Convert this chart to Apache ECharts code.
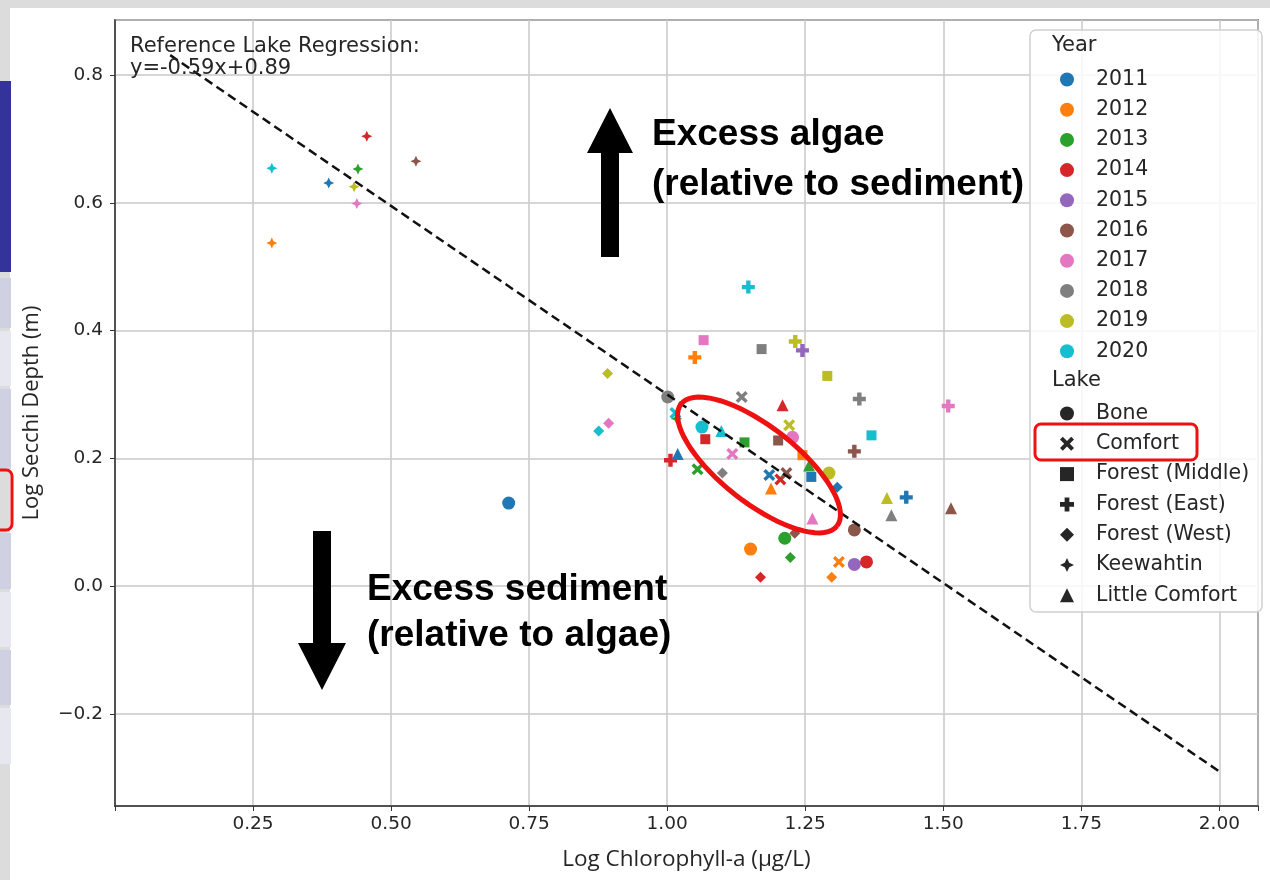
<!DOCTYPE html>
<html>
<head>
<meta charset="utf-8">
<title>Log Secchi Depth vs Log Chlorophyll-a</title>
<script src="https://cdn.jsdelivr.net/npm/echarts@6/dist/echarts.min.js"></script>
<style>
    html, body { margin: 0; padding: 0; background: #dcdcdc; }
    #slide { position: absolute; left: 10px; top: 8px; width: 1260px; height: 872px; background: #fff; }
    .strip { position: absolute; left: 0; width: 11px; }
    #chart { position: absolute; left: 0; top: 0; width: 1270px; height: 880px; }
</style>
</head>
<body>
<div id="slide"></div>
<div class="strip" style="top:81px;height:191px;background:#333399"></div>
<div class="strip" style="top:278px;height:50px;background:#cfd0e2"></div>
<div class="strip" style="top:331px;height:55px;background:#e6e7ef"></div>
<div class="strip" style="top:389px;height:80px;background:#cfd0e2"></div>
<div class="strip" style="top:533px;height:56px;background:#cfd0e2"></div>
<div class="strip" style="top:592px;height:55px;background:#e6e7ef"></div>
<div class="strip" style="top:650px;height:55px;background:#cfd0e2"></div>
<div class="strip" style="top:708px;height:56px;background:#e6e7ef"></div>
<div id="chart"></div>
<script>
const years = ['2011', '2012', '2013', '2014', '2015', '2016', '2017', '2018', '2019', '2020'];
const yearColors = ['#1f77b4', '#ff7f0e', '#2ca02c', '#d62728', '#9467bd', '#8c564b', '#e377c2', '#7f7f7f', '#bcbd22', '#17becf'];

// [log chlorophyll-a, log secchi depth, year]
const bone = [[0.713, 0.130, 2011], [1.001, 0.296, 2018], [1.063, 0.249, 2020], [1.151, 0.058, 2012], [1.213, 0.075, 2013],
    [1.227, 0.233, 2017], [1.293, 0.177, 2019], [1.339, 0.088, 2016], [1.339, 0.034, 2015], [1.361, 0.038, 2014]];
const comfort = [[1.015, 0.271, 2020], [1.055, 0.183, 2013], [1.118, 0.207, 2017], [1.135, 0.296, 2018], [1.185, 0.174, 2011],
    [1.205, 0.167, 2014], [1.216, 0.177, 2016], [1.221, 0.252, 2019], [1.311, 0.038, 2012]];
const forestMiddle = [[1.066, 0.385, 2017], [1.171, 0.371, 2018], [1.290, 0.329, 2019], [1.370, 0.236, 2020], [1.069, 0.230, 2014],
    [1.140, 0.225, 2013], [1.201, 0.228, 2016], [1.245, 0.205, 2012], [1.261, 0.171, 2011]];
const forestEast = [[1.147, 0.468, 2020], [1.050, 0.358, 2012], [1.232, 0.383, 2019], [1.245, 0.369, 2015], [1.348, 0.293, 2018],
    [1.339, 0.211, 2016], [1.509, 0.282, 2017], [1.433, 0.139, 2011], [1.006, 0.197, 2014]];
const forestWest = [[0.892, 0.333, 2019], [0.894, 0.255, 2017], [0.876, 0.243, 2020], [1.100, 0.177, 2018], [1.231, 0.083, 2016],
    [1.223, 0.045, 2013], [1.169, 0.014, 2014], [1.298, 0.014, 2012], [1.308, 0.155, 2011]];
const keewahtin = [[0.284, 0.654, 2020], [0.284, 0.537, 2012], [0.387, 0.631, 2011], [0.440, 0.653, 2013], [0.433, 0.625, 2019],
    [0.438, 0.599, 2017], [0.456, 0.704, 2014], [0.545, 0.665, 2016], [1.017, 0.262, 2013]];
const littleComfort = [[1.209, 0.283, 2014], [1.019, 0.207, 2011], [1.098, 0.243, 2020], [1.188, 0.153, 2012], [1.257, 0.189, 2013],
    [1.263, 0.106, 2017], [1.398, 0.138, 2019], [1.406, 0.111, 2018], [1.514, 0.122, 2016]];

const lakes = ['Bone', 'Comfort', 'Forest (Middle)', 'Forest (East)', 'Forest (West)', 'Keewahtin', 'Little Comfort'];
const lakeData = [bone, comfort, forestMiddle, forestEast, forestWest, keewahtin, littleComfort];

// reference lake regression y = -0.59x + 0.89
const regSlope = -0.59;
const regIntercept = 0.89;
const regX = [0.1, 2.0];

const xTicks = [0.25, 0.5, 0.75, 1.0, 1.25, 1.5, 1.75, 2.0];

const lakeSymbols = [
    'circle',
    'path://M2,0 L5,3 L8,0 L10,2 L7,5 L10,8 L8,10 L5,7 L2,10 L0,8 L3,5 L0,2 Z',
    'rect',
    'path://M3.3,0 H6.7 V3.3 H10 V6.7 H6.7 V10 H3.3 V6.7 H0 V3.3 H3.3 Z',
    'diamond',
    'path://M5,0 L6.6,3.4 L10,5 L6.6,6.6 L5,10 L3.4,6.6 L0,5 L3.4,3.4 Z',
    'triangle'
];
const lakeSizes = [13, 12, 10, 13, 11, 11, 12];

const chart = echarts.init(document.getElementById('chart'));

const series = [];
years.forEach(function (y, i) {
    series.push({ name: y, type: 'scatter', data: [], symbol: 'circle', itemStyle: { color: yearColors[i], opacity: 1 } });
});
lakes.forEach(function (lake, i) {
    series.push({
        name: lake,
        type: 'scatter',
        symbol: lakeSymbols[i],
        symbolSize: lakeSizes[i],
        itemStyle: { color: '#262626', opacity: 1 },
        z: 3,
        data: lakeData[i].map(function (d) {
            return { value: [d[0], d[1]], itemStyle: { color: yearColors[years.indexOf(String(d[2]))], opacity: 1 } };
        })
    });
});
series.push({
    type: 'line',
    data: regX.map(function (x) { return [x, regSlope * x + regIntercept]; }),
    symbol: 'none',
    lineStyle: { color: '#111', width: 2.5, type: [9, 5] },
    z: 4
});

// red ellipse around the Comfort points (annotation)
const ellipsePts = [];
const ec = [759, 465], ea = 99, eb = 38, ang = 38 * Math.PI / 180;
for (let k = 0; k <= 72; k++) {
    const t = k / 72 * Math.PI * 2;
    const px = ea * Math.cos(t), py = eb * Math.sin(t);
    ellipsePts.push([ec[0] + px * Math.cos(ang) - py * Math.sin(ang), ec[1] + px * Math.sin(ang) + py * Math.cos(ang)]);
}

const legendText = { fontFamily: 'DejaVu Sans', fontSize: 20.5, color: '#262626', padding: [0, 0, 0, 17] };

const option = {
    animation: false,
    textStyle: { fontFamily: 'DejaVu Sans' },
    grid: { left: 115, right: 12, top: 20, bottom: 74, show: true, borderColor: '#333', borderWidth: 1.5 },
    xAxis: {
        type: 'value', min: 0, max: 2.07, interval: 0.25,
        name: 'Log Chlorophyll-a (\u00b5g/L)', nameLocation: 'middle', nameGap: 42,
        nameTextStyle: { fontFamily: 'Open Sans', fontSize: 22.5, color: '#262626' },
        axisLine: { show: true, onZero: false, lineStyle: { color: '#333', width: 1.5 } },
        axisTick: { show: true, length: 5, lineStyle: { color: '#333' } },
        axisLabel: {
            fontSize: 18.5, color: '#262626', margin: 9,
            formatter: function (v) { return xTicks.indexOf(v) >= 0 ? v.toFixed(2) : ''; }
        },
        splitLine: { lineStyle: { color: '#c8c8c8', width: 1.5 } }
    },
    yAxis: {
        type: 'value', min: -0.344, max: 0.886, splitNumber: 6,
        name: 'Log Secchi Depth (m)', nameLocation: 'middle', nameGap: 72,
        nameTextStyle: { fontFamily: 'Open Sans', fontSize: 22, color: '#262626' },
        axisLine: { show: true, onZero: false, lineStyle: { color: '#333', width: 1.5 } },
        axisTick: { show: true, length: 5, lineStyle: { color: '#333' } },
        axisLabel: {
            fontSize: 18.5, color: '#262626', margin: 12, showMinLabel: false, showMaxLabel: false,
            formatter: function (v) { return v < 0 ? '\u2212' + Math.abs(v).toFixed(1) : v.toFixed(1); }
        },
        splitLine: { lineStyle: { color: '#c8c8c8', width: 1.5 } }
    },
    legend: [
        {
            data: years, orient: 'vertical', left: 1055, top: 64, itemWidth: 14, itemHeight: 14, itemGap: 9.2,
            icon: 'circle', textStyle: legendText, z: 6
        },
        {
            data: lakes, orient: 'vertical', left: 1055, top: 398, itemWidth: 14, itemHeight: 14, itemGap: 9.3,
            textStyle: legendText, z: 6
        }
    ],
    graphic: [
        { type: 'rect', z: 5, shape: { x: 1030, y: 30, width: 232, height: 582, r: 6 },
          style: { fill: 'rgba(255,255,255,0.85)', stroke: '#d0d0d0', lineWidth: 1.5 } },
        { type: 'text', z: 7, left: 1052, top: 35, style: { text: 'Year', font: '21px "DejaVu Sans"', fill: '#262626' } },
        { type: 'text', z: 7, left: 1052, top: 370, style: { text: 'Lake', font: '21px "DejaVu Sans"', fill: '#262626' } },
        { type: 'rect', z: 8, shape: { x: 1035, y: 424, width: 162, height: 36, r: 6 },
          style: { fill: 'none', stroke: '#ee1111', lineWidth: 3 } },
        { type: 'rect', z: 8, shape: { x: -14, y: 470, width: 26, height: 60, r: 6 },
          style: { fill: 'none', stroke: '#ee1111', lineWidth: 3 } },
        { type: 'text', z: 7, left: 130, top: 36,
          style: { text: 'Reference Lake Regression:\ny=-0.59x+0.89', font: '21px "DejaVu Sans"', fill: '#262626', lineHeight: 22 } },
        { type: 'polyline', z: 9, shape: { points: ellipsePts }, style: { stroke: '#ee1111', lineWidth: 5, fill: 'none' } },
        { type: 'polygon', z: 9, shape: { points: [[610, 108], [633, 153], [619, 153], [619, 257], [601, 257], [601, 153], [587, 153]] },
          style: { fill: '#000' } },
        { type: 'polygon', z: 9, shape: { points: [[322, 690], [346, 643], [331, 643], [331, 531], [313, 531], [313, 643], [298, 643]] },
          style: { fill: '#000' } },
        { type: 'text', z: 9, left: 652, top: 110,
          style: { text: 'Excess algae\n(relative to sediment)', font: 'bold 37px "Liberation Sans"', fill: '#000', lineHeight: 50 } },
        { type: 'text', z: 9, left: 367, top: 567,
          style: { text: 'Excess sediment\n(relative to algae)', font: 'bold 37px "Liberation Sans"', fill: '#000', lineHeight: 46 } }
    ],
    series: series
};

chart.setOption(option);
</script>
</body>
</html>
